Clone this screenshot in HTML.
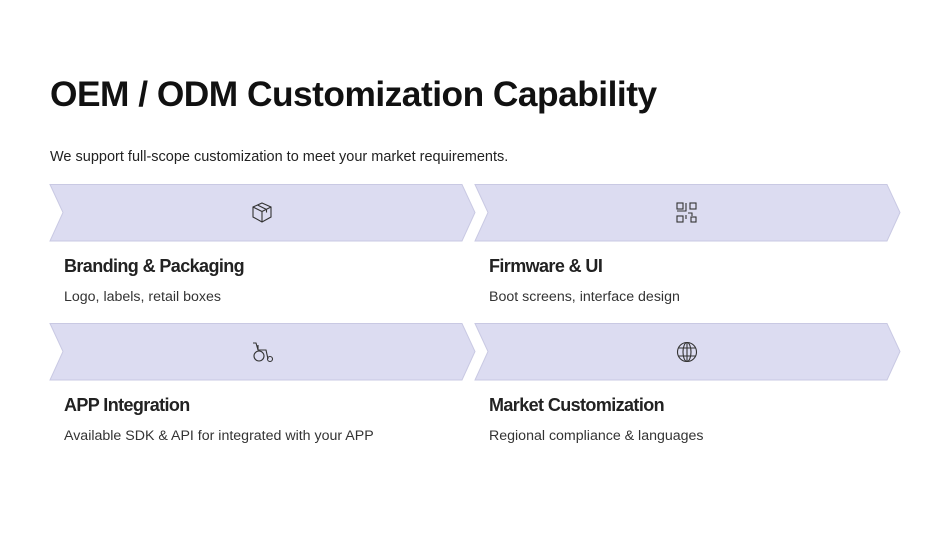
<!DOCTYPE html>
<html><head><style>
body{margin:0;width:950px;height:535px;background:#fff;font-family:"Liberation Sans",sans-serif;color:#111;position:relative;overflow:hidden}
.a{position:absolute;white-space:nowrap}
h1{position:absolute;left:50px;top:75px;margin:0;font-size:35.3px;font-weight:bold;letter-spacing:-0.5px}
.sub{left:50px;top:149px;font-size:14.5px;color:#222}
.h{font-size:18px;font-weight:bold;color:#222;letter-spacing:-0.6px}
.d{font-size:14.2px;color:#333}
</style></head><body>
<h1>OEM / ODM Customization Capability</h1>
<div class="a sub">We support full-scope customization to meet your market requirements.</div>
<svg class="a" style="left:0;top:0" width="950" height="535">
<g fill="#dcdcf1" stroke="#c9c9e3" stroke-width="1">
<polygon points="50,184.5 462,184.5 475,212.5 462,241 50,241 63,212.5"/>
<polygon points="475,184.5 887,184.5 900,212.5 887,241 475,241 488,212.5"/>
<polygon points="50,323.5 462,323.5 475,351.5 462,380 50,380 63,351.5"/>
<polygon points="475,323.5 887,323.5 900,351.5 887,380 475,380 488,351.5"/>
</g>
<g fill="none" stroke="#333" stroke-width="1.1">
<path d="M262,203 l9,4 v10 l-9,5 l-9,-5 v-10 z M253,207 l9,4.5 l9,-4.5 M262,211.5 v10.5 M257.5,205 l9,4.5 v3"/>
<rect x="677" y="203" width="6" height="6"/><rect x="690" y="203" width="6" height="6"/><rect x="677" y="216" width="6" height="6"/><rect x="691" y="217" width="5" height="5"/>
<path d="M686,203 v8 h-9 M686,215 v4 M688,213 h4 v3"/>
<circle cx="687" cy="352" r="9.5"/><ellipse cx="687" cy="352" rx="4" ry="9.5"/><path d="M678,348 h18 M678,356 h18 M687,342.5 v19"/>
<circle cx="259" cy="356" r="5"/><circle cx="270" cy="359" r="2.5"/><path d="M253,343 h3 l2,7 h8 l2,9 M258,350 v-5"/>
</g>
</svg>
<div class="a h" style="left:64px;top:256px">Branding &amp; Packaging</div>
<div class="a d" style="left:64px;top:289px">Logo, labels, retail boxes</div>
<div class="a h" style="left:489px;top:256px">Firmware &amp; UI</div>
<div class="a d" style="left:489px;top:289px">Boot screens, interface design</div>
<div class="a h" style="left:64px;top:395px">APP Integration</div>
<div class="a d" style="left:64px;top:428px">Available SDK &amp; API for integrated with your APP</div>
<div class="a h" style="left:489px;top:395px">Market Customization</div>
<div class="a d" style="left:489px;top:428px">Regional compliance &amp; languages</div>
</body></html>
